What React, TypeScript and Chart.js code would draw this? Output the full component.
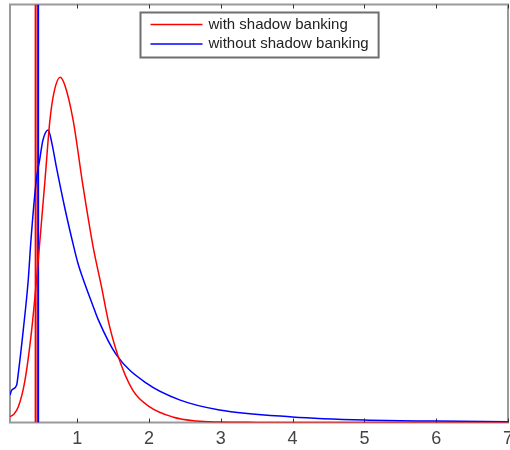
import React, { useEffect, useRef } from "react";
import { Chart, registerables } from "chart.js";

Chart.register(...registerables);

// x positions and density values
const redX = [0.065, 0.111, 0.181, 0.274, 0.367, 0.43, 0.482, 0.55, 0.621, 0.68, 0.764, 0.829, 0.944, 1.083, 1.222, 1.339, 1.431, 1.565, 1.774, 2.01, 2.329, 2.663, 2.982, 3.5, 4, 5, 6, 7];
const redY = [0.017, 0.022, 0.045, 0.122, 0.266, 0.4, 0.524, 0.69, 0.868, 0.95, 0.991, 0.968, 0.868, 0.677, 0.505, 0.39, 0.294, 0.194, 0.093, 0.045, 0.016, 0.0043, 0.0014, 0.0003, 0.0001, 0, 0, 0];

const blueX = [0.065, 0.089, 0.158, 0.181, 0.25, 0.319, 0.357, 0.431, 0.478, 0.524, 0.597, 0.65, 0.714, 0.829, 0.944, 1.01, 1.083, 1.222, 1.292, 1.547, 1.964, 2.426, 2.982, 3.996, 5, 6, 7];
const blueY = [0.079, 0.093, 0.108, 0.142, 0.266, 0.409, 0.524, 0.696, 0.754, 0.811, 0.84, 0.8, 0.73, 0.615, 0.512, 0.458, 0.412, 0.334, 0.296, 0.194, 0.113, 0.065, 0.036, 0.016, 0.007, 0.004, 0.002];

const thresholdRed = 0.422;
const thresholdBlue = 0.457;

const seriesLabels = ["with shadow banking", "without shadow banking"];
const xMin = 0.065;
const xMax = 7;
const yMax = 1.2;

const zip = (xs: number[], ys: number[]) => xs.map((x, i) => ({ x, y: ys[i] }));

const framePlugin = {
  id: "matlabFrame",
  beforeDatasetsDraw(chart: any) {
    const { ctx, chartArea: a, scales } = chart;
    const x = scales.x;
    ctx.save();
    ctx.strokeStyle = "#9a9a9a";
    ctx.lineWidth = 2;
    ctx.strokeRect(a.left, a.top, a.right - a.left, a.bottom - a.top);
    ctx.strokeStyle = "#333";
    ctx.lineWidth = 1;
    ctx.beginPath();
    x.ticks.forEach((t: any) => {
      const px = Math.round(x.getPixelForValue(t.value)) + 0.5;
      ctx.moveTo(px, a.bottom);
      ctx.lineTo(px, a.bottom - 4);
      ctx.moveTo(px, a.top);
      ctx.lineTo(px, a.top + 4);
    });
    ctx.stroke();
    ctx.restore();
  },
  afterDraw(chart: any) {
    const { ctx, chartArea: a } = chart;
    const font = "15px 'Liberation Sans', Arial, sans-serif";
    ctx.save();
    ctx.font = font;
    const labels = [chart.data.datasets[0].label, chart.data.datasets[1].label];
    const colors = [chart.data.datasets[0].borderColor, chart.data.datasets[1].borderColor];
    const tw = Math.max(...labels.map((l: string) => ctx.measureText(l).width));
    const padL = 10, lineLen = 52, gap = 6, padR = 10;
    const w = padL + lineLen + gap + tw + padR;
    const h = 45;
    const cx = (a.left + a.right) / 2;
    const left = Math.round(cx - w / 2) + 0.5;
    const top = a.top + 8;
    ctx.fillStyle = "#fff";
    ctx.fillRect(left, top, w, h);
    ctx.strokeStyle = "#6f6f6f";
    ctx.lineWidth = 2;
    ctx.strokeRect(left, top, w, h);
    const rows = [top + 12, top + 31.4];
    rows.forEach((ry, i) => {
      ctx.strokeStyle = colors[i];
      ctx.lineWidth = 1.5;
      ctx.beginPath();
      ctx.moveTo(left + padL, ry);
      ctx.lineTo(left + padL + lineLen, ry);
      ctx.stroke();
      ctx.fillStyle = "#222";
      ctx.textBaseline = "middle";
      ctx.textAlign = "left";
      ctx.fillText(labels[i], left + padL + lineLen + gap, ry);
    });
    ctx.restore();
  },
};

export default function App() {
  const ref = useRef<HTMLCanvasElement | null>(null);
  useEffect(() => {
    if (!ref.current) return;
    const chart = new Chart(ref.current, {
      type: "line",
      data: {
        datasets: [
          {
            label: seriesLabels[0],
            data: zip(redX, redY),
            borderColor: "#ff0000",
            borderWidth: 1.5,
            pointRadius: 0,
            cubicInterpolationMode: "monotone",
            fill: false,
          },
          {
            label: seriesLabels[1],
            data: zip(blueX, blueY),
            borderColor: "#0000ff",
            borderWidth: 1.5,
            pointRadius: 0,
            cubicInterpolationMode: "monotone",
            fill: false,
          },
          {
            label: "threshold red",
            data: [{ x: thresholdRed, y: 0 }, { x: thresholdRed, y: yMax }],
            borderColor: "#ff0000",
            borderWidth: 2,
            pointRadius: 0,
            fill: false,
          },
          {
            label: "threshold blue",
            data: [{ x: thresholdBlue, y: 0 }, { x: thresholdBlue, y: yMax }],
            borderColor: "#0000ff",
            borderWidth: 2,
            pointRadius: 0,
            fill: false,
          },
        ],
      },
      options: {
        responsive: false,
        animation: false,
        layout: { padding: { left: 10, right: 2, top: 4.5, bottom: 0 } },
        plugins: { legend: { display: false }, tooltip: { enabled: false } },
        scales: {
          x: {
            type: "linear",
            min: xMin,
            max: xMax,
            grid: { display: false, drawTicks: false },
            border: { display: false },
            ticks: {
              stepSize: 1,
              includeBounds: false,
              autoSkip: false,
              maxRotation: 0,
              padding: 6,
              color: "#444",
              font: { family: "'Liberation Sans', Arial, sans-serif", size: 18 },
            },
            afterFit(s: any) {
              s.paddingLeft = 0;
              s.paddingRight = 0;
              s.height = 27.5;
            },
          },
          y: { type: "linear", display: false, min: 0, max: yMax },
        },
      },
      plugins: [framePlugin],
    } as any);
    return () => chart.destroy();
  }, []);
  return (
    <div style={{ position: "fixed", left: 0, top: 0, width: 510, height: 450, background: "#fff" }}>
      <canvas ref={ref} width={510} height={450} />
    </div>
  );
}
